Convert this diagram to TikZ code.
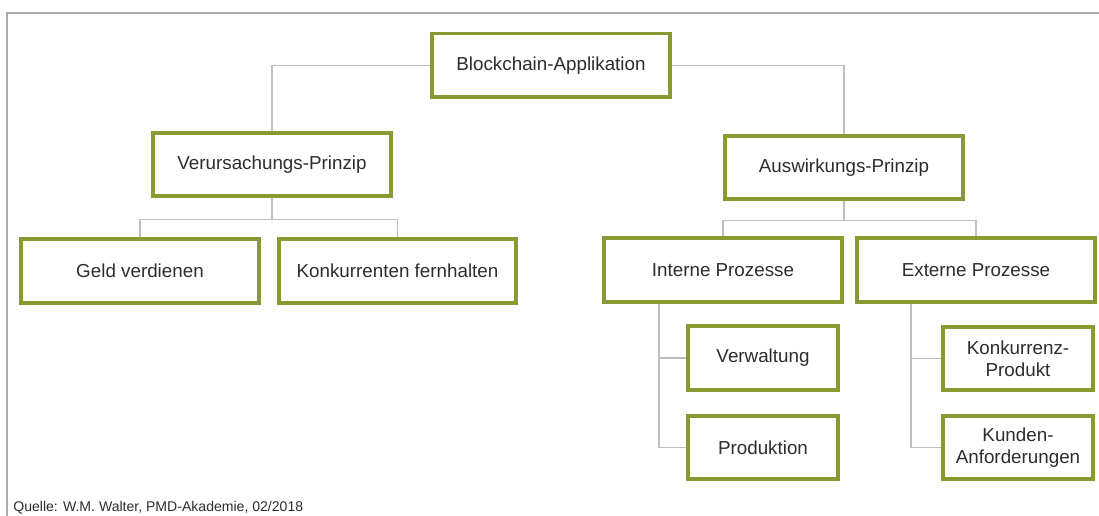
\documentclass[tikz,border=0pt]{standalone}
\usepackage{fontspec}
\setmainfont{Liberation Sans}
\definecolor{boxgreen}{RGB}{136,154,50}
\definecolor{linegray}{RGB}{190,190,190}
\definecolor{framegray}{RGB}{170,170,170}
\definecolor{txtgray}{RGB}{45,45,45}
\begin{document}
\begin{tikzpicture}[x=0.02cm, y=-0.02cm,
    box/.style={draw=boxgreen, line width=0.08cm, fill=white, text=txtgray,
                minimum width=4.76cm, minimum height=1.28cm, align=center,
                font=\fontsize{10.7}{12.3}\selectfont},
    small/.style={box, minimum width=3.0cm},
    link/.style={draw=linegray, line width=0.6pt}]
      \useasboundingbox (0,0) rectangle (1099,516);
      \draw[framegray, line width=0.8pt] (1099,13) -- (7,13) -- (7,516);
      \node[box] (app) at (551,65.5) {Blockchain-Applikation};
      \node[box] (cause) at (272,164.5) {Verursachungs-Prinzip};
      \node[box] (effect) at (844,167.5) {Auswirkungs-Prinzip};
      \node[box] (money) at (140,271) {Geld verdienen};
      \node[box] (rival) at (397.5,271) {Konkurrenten fernhalten};
      \node[box] (intern) at (723,270) {Interne Prozesse};
      \node[box] (extern) at (976,270) {Externe Prozesse};
      \node[small] (admin) at (763,358) {Verwaltung};
      \node[small] (prod) at (763,447.5) {Produktion};
      \node[small] (rivprod) at (1018,358.5) {Konkurrenz-\\Produkt};
      \node[small] (custreq) at (1018,447.5) {Kunden-\\Anforderungen};
      \draw[link] (app.west) -| (cause.north)
                  (app.east) -| (effect.north);
      \draw[link] (cause.south) -- ++(0,21) coordinate (cj)
                  (money.north) |- (cj) -| (rival.north);
      \draw[link] (effect.south) -- ++(0,19) coordinate (ej)
                  (intern.north) |- (ej) -| (extern.north);
      \draw[link] ([xshift=1.14cm]intern.south west) |- (admin.west)
                  ([xshift=1.14cm]intern.south west) |- (prod.west);
      \draw[link] ([xshift=1.12cm]extern.south west) |- (rivprod.west)
                  ([xshift=1.12cm]extern.south west) |- (custreq.west);
      \node[anchor=base west, inner sep=0pt, text=txtgray, font=\fontsize{8}{9}\selectfont]
            (source) at (13,512) {Quelle: W.M. Walter, PMD-Akademie, 02/2018};
\end{tikzpicture}
\end{document}
